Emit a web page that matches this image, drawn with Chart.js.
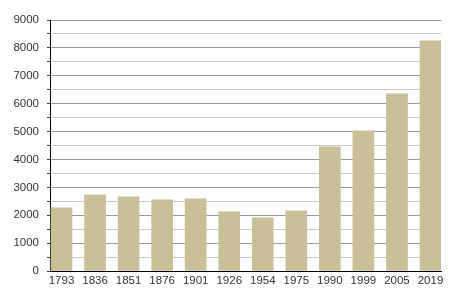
<!DOCTYPE html>
<html>
<head>
<meta charset="utf-8">
<script src="https://cdn.jsdelivr.net/npm/chart.js@4"></script>
<style>
  html, body { margin: 0; padding: 0; background: #fff; }
  #wrap { width: 450px; height: 300px; }
</style>
</head>
<body>
<div id="wrap"><canvas id="chart"></canvas></div>
<script>
const years = ["1793", "1836", "1851", "1876", "1901", "1926", "1954", "1975", "1990", "1999", "2005", "2019"];
const population = [2269, 2735, 2663, 2556, 2591, 2125, 1910, 2161, 4455, 5030, 6355, 8254];
const yMax = 9000;
const yStep = 500;

const points = years.map((y, i) => ({ x: i, y: population[i] }));

const ctx = document.getElementById("chart");
new Chart(ctx, {
    type: "bar",
    data: {
        datasets: [{
            data: points,
            backgroundColor: "#c9bf99",
            borderWidth: 0,
            barThickness: 21
        }]
    },
    options: {
        responsive: true,
        maintainAspectRatio: false,
        animation: false,
        layout: { padding: { top: 20, right: 9, left: 0, bottom: 0 } },
        plugins: { legend: { display: false }, tooltip: { enabled: false } },
        scales: {
            x: {
                type: "linear",
                offset: false,
                min: -0.343,
                max: 11.313,
                afterBuildTicks: (scale) => {
                    scale.ticks = years.map((_, i) => ({ value: i }));
                },
                afterFit: (scale) => { scale.height = 29; },
                grid: { display: false, drawTicks: false, offset: false },
                border: { color: "#000", width: 1 },
                ticks: {
                    color: "#333",
                    font: { family: "Liberation Sans", size: 11.5 },
                    padding: 3,
                    maxRotation: 0,
                    autoSkip: false,
                    callback: (v) => years[v]
                }
            },
            y: {
                min: 0,
                max: yMax,
                afterFit: (scale) => { scale.width = 50; },
                grid: {
                    color: (c) => (c.tick && c.tick.value % 1000 === 0) ? "#999999" : "#c8c8c8",
                    tickColor: "#333",
                    tickLength: 3,
                    lineWidth: 1
                },
                border: { color: "#000", width: 1 },
                ticks: {
                    stepSize: yStep,
                    autoSkip: false,
                    color: "#333",
                    font: { family: "Liberation Sans", size: 11.5 },
                    padding: 8,
                    callback: (v) => v % 1000 === 0 ? String(v) : ""
                }
            }
        }
    }
});
</script>
</body>
</html>
